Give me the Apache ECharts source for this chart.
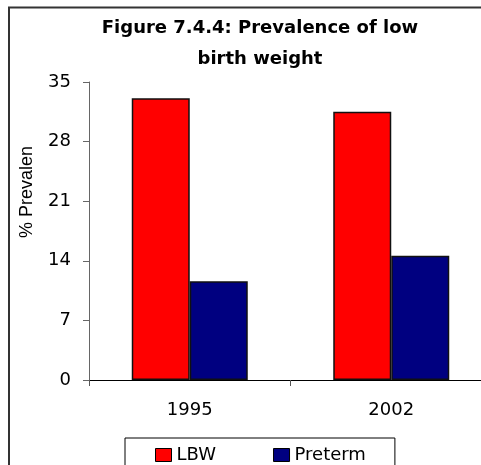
<!DOCTYPE html>
<html>
<head>
<meta charset="utf-8">
<style>
  html, body { margin: 0; padding: 0; background: #fff; overflow: hidden; }
  #chart { width: 481px; height: 465px; }
</style>
<script src="https://cdn.jsdelivr.net/npm/echarts@6/dist/echarts.min.js"></script>
</head>
<body>
<div id="chart"></div>
<script>
// Survey years and prevalence (%) of low birth weight and preterm births
const years = ['1995', '2002'];
const lbw = [33.1, 31.5];
const preterm = [11.6, 14.6];
const yTicks = { min: 0, max: 35, interval: 7 };

const titleText = 'Figure 7.4.4: Prevalence of low\nbirth weight';
const yName = '% Prevalence';

const FONT = 'DejaVu Sans';

const chart = echarts.init(document.getElementById('chart'), null, { renderer: 'canvas' });

chart.setOption({
  backgroundColor: '#ffffff',
  animation: false,
  graphic: [
    {
      // outer chart frame: only its top and left edges fall inside the view
      type: 'polyline',
      shape: { points: [[9, 600], [9, 7.5], [600, 7.5]] },
      style: { fill: 'none', stroke: '#333333', lineWidth: 2 },
      silent: true
    },
    {
      type: 'text',
      x: 260,
      y: 44,
      style: {
        text: titleText,
        align: 'center',
        verticalAlign: 'middle',
        fontFamily: FONT,
        fontWeight: 'bold',
        fontSize: 18,
        lineHeight: 31,
        fill: '#000000'
      }
    },
    {
      // y-axis title, clipped by the title area
      type: 'text',
      x: 27,
      y: 238,
      rotation: Math.PI / 2,
      style: {
        text: yName,
        align: 'left',
        verticalAlign: 'middle',
        fontFamily: 'Liberation Sans',
        fontSize: 18,
        width: 99,
        overflow: 'truncate',
        ellipsis: '',
        fill: '#000000'
      }
    }
  ],
  legend: {
    data: ['LBW', 'Preterm'],
    left: 125,
    top: 438,
    orient: 'horizontal',
    padding: [8, 29, 20, 30],
    itemGap: 57,
    itemWidth: 16,
    itemHeight: 13,
    borderColor: '#000000',
    borderWidth: 1,
    icon: 'rect',
    itemStyle: { borderColor: '#000000', borderWidth: 1 },
    textStyle: { fontFamily: FONT, fontSize: 18, color: '#000000' }
  },
  grid: {
    left: 89,
    top: 82,
    width: 403,
    height: 298,
    containLabel: false,
    outerBoundsMode: 'none'
  },
  xAxis: {
    type: 'category',
    data: years,
    axisLine: { show: true, lineStyle: { color: '#000000', width: 1 } },
    axisTick: { show: true, length: 6, lineStyle: { color: '#555555' } },
    axisLabel: { fontFamily: FONT, fontSize: 18, color: '#000000', margin: 21 },
    splitLine: { show: false }
  },
  yAxis: {
    type: 'value',
    min: yTicks.min,
    max: yTicks.max,
    interval: yTicks.interval,
    axisLine: { show: true, lineStyle: { color: '#666666', width: 1 } },
    axisTick: { show: true, length: 6, lineStyle: { color: '#666666' } },
    axisLabel: { fontFamily: FONT, fontSize: 18, color: '#000000', margin: 18 },
    splitLine: { show: false }
  },
  series: [
    {
      name: 'LBW',
      type: 'bar',
      data: lbw,
      barWidth: 58,
      barGap: '0%',
      itemStyle: { color: '#ff0000', borderColor: '#111111', borderWidth: 1.5 }
    },
    {
      name: 'Preterm',
      type: 'bar',
      data: preterm,
      barWidth: 58,
      barGap: '0%',
      itemStyle: { color: '#000080', borderColor: '#111111', borderWidth: 1.5 }
    }
  ]
});
</script>
</body>
</html>
